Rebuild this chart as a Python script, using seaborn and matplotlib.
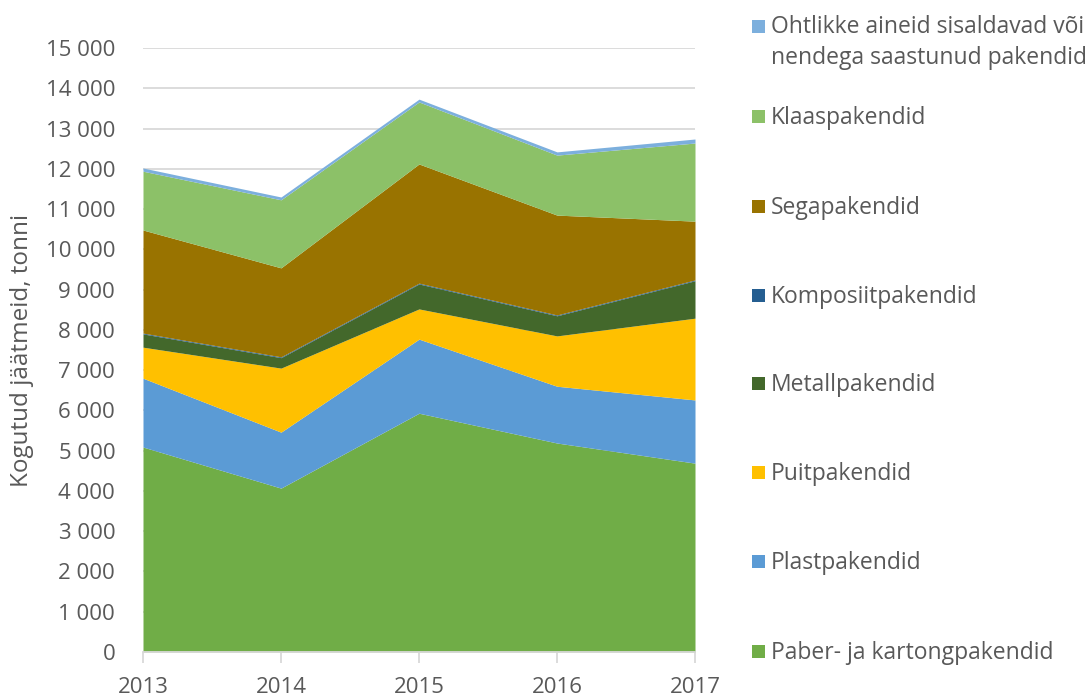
import matplotlib
matplotlib.use("Agg")
import matplotlib.pyplot as plt
import matplotlib.patches as mpatches
from matplotlib.ticker import FuncFormatter
import numpy as np
import seaborn as sns

# %%
years = [2013, 2014, 2015, 2016, 2017]

paber = [5090, 4070, 5930, 5190, 4690]
plast = [1710, 1390, 1840, 1410, 1570]
puit = [770, 1590, 750, 1250, 2030]
metall = [330, 260, 620, 500, 930]
komposiit = [20, 20, 20, 20, 20]
sega = [2560, 2210, 2960, 2480, 1460]
klaas = [1460, 1690, 1540, 1490, 1940]
ohtlikke = [80, 70, 70, 80, 100]

labels = ["Paber- ja kartongpakendid", "Plastpakendid", "Puitpakendid",
          "Metallpakendid", "Komposiitpakendid", "Segapakendid",
          "Klaaspakendid", "Ohtlikke aineid sisaldavad või\nnendega saastunud pakendid"]
colors = ["#70AD47", "#5B9BD5", "#FFC000", "#43682B", "#255E91", "#997300",
          "#8CC168", "#7CAFDD"]

# %%
sns.set_theme(style="white")
plt.rcParams['font.family'] = ['Open Sans', 'DejaVu Sans']
grey = "#595959"

fig = plt.figure(figsize=(10.85, 6.99), dpi=100)
ax = fig.add_axes([143 / 1085, 47 / 699, 552 / 1085, 604 / 699])

ax.stackplot(years, paber, plast, puit, metall, komposiit, sega, klaas, ohtlikke,
             colors=colors, linewidth=0, zorder=2)

ax.set_xlim(2013, 2017)
ax.set_ylim(0, 15000)
ax.set_yticks(np.arange(0, 15001, 1000))
ax.set_xticks(years)
ax.yaxis.set_major_formatter(FuncFormatter(lambda v, p: f"{int(v):,}".replace(",", " ")))
ax.grid(axis="y", color="#d9d9d9", linewidth=1.3, zorder=0)
ax.set_axisbelow(True)
sns.despine(ax=ax, left=True, top=True, right=True)
ax.spines["bottom"].set_color("#d9d9d9")
ax.spines["bottom"].set_linewidth(1.3)
ax.tick_params(axis="y", length=0, labelsize=16, labelcolor=grey, pad=20)
ax.tick_params(axis="x", length=8, width=1.3, color="#d9d9d9", direction="out",
               labelsize=16, labelcolor=grey, pad=10, bottom=True)
ax.set_ylabel("Kogutud jäätmeid, tonni", fontsize=17.5, color=grey, labelpad=8.5)

# legend, drawn by hand to match the spacing of the original
leg_y = [651, 561, 472, 383, 295, 206, 116, 26]
for lab, col, yp in zip(labels, colors, leg_y):
    fy = 1 - yp / 699
    fig.patches.append(mpatches.Rectangle((752 / 1085, fy - 6.5 / 699), 13 / 1085, 13 / 699,
                                          transform=fig.transFigure, facecolor=col,
                                          edgecolor="none"))
    if "\n" in lab:
        fig.text(771 / 1085, 1 - 15 / 699, lab, fontsize=16.5, color=grey,
                 va="top", ha="left", linespacing=1.37)
    else:
        fig.text(771 / 1085, fy - 2 / 699, lab, fontsize=16.5, color=grey,
                 va="center", ha="left")

fig.savefig("out.png", dpi=100)
